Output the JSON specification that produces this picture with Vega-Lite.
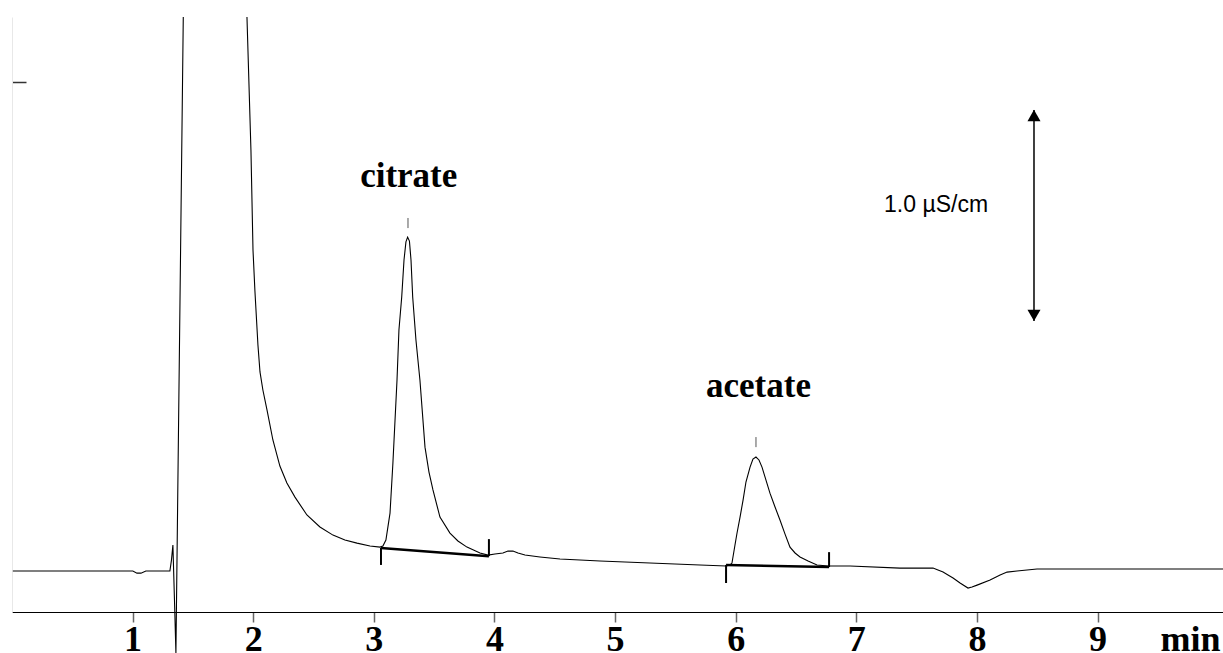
{
  "$schema": "https://vega.github.io/schema/vega-lite/v6.json",
  "width": 1211,
  "height": 595,
  "autosize": {"type": "none"},
  "padding": {"left": 12, "top": 17, "right": 0, "bottom": 41},
  "background": "white",
  "config": {"view": {"stroke": null}},
  "datasets": {
    "trace": [
      {"seg": "a", "t": 0.007, "v": 0},
      {"seg": "a", "t": 0.397, "v": 0},
      {"seg": "a", "t": 0.729, "v": 0},
      {"seg": "a", "t": 1.002, "v": 0},
      {"seg": "a", "t": 1.036, "v": -0.010},
      {"seg": "a", "t": 1.069, "v": -0.010},
      {"seg": "a", "t": 1.110, "v": 0},
      {"seg": "a", "t": 1.309, "v": 0},
      {"seg": "a", "t": 1.322, "v": 0.052},
      {"seg": "a", "t": 1.334, "v": 0.124},
      {"seg": "a", "t": 1.347, "v": -0.138},
      {"seg": "a", "t": 1.359, "v": -0.390},
      {"seg": "a", "t": 1.420, "v": 2.638},
      {"seg": "b", "t": 1.948, "v": 2.638},
      {"seg": "b", "t": 1.981, "v": 2.005},
      {"seg": "b", "t": 1.998, "v": 1.529},
      {"seg": "b", "t": 2.014, "v": 1.333},
      {"seg": "b", "t": 2.039, "v": 1.076},
      {"seg": "b", "t": 2.056, "v": 0.948},
      {"seg": "b", "t": 2.080, "v": 0.862},
      {"seg": "b", "t": 2.114, "v": 0.767},
      {"seg": "b", "t": 2.163, "v": 0.624},
      {"seg": "b", "t": 2.221, "v": 0.500},
      {"seg": "b", "t": 2.279, "v": 0.419},
      {"seg": "b", "t": 2.346, "v": 0.352},
      {"seg": "b", "t": 2.445, "v": 0.267},
      {"seg": "b", "t": 2.553, "v": 0.210},
      {"seg": "b", "t": 2.661, "v": 0.171},
      {"seg": "b", "t": 2.760, "v": 0.148},
      {"seg": "b", "t": 2.860, "v": 0.133},
      {"seg": "b", "t": 2.968, "v": 0.119},
      {"seg": "b", "t": 3.051, "v": 0.114},
      {"seg": "b", "t": 3.075, "v": 0.119},
      {"seg": "b", "t": 3.100, "v": 0.148},
      {"seg": "b", "t": 3.134, "v": 0.276},
      {"seg": "b", "t": 3.158, "v": 0.514},
      {"seg": "b", "t": 3.192, "v": 0.910},
      {"seg": "b", "t": 3.208, "v": 1.148},
      {"seg": "b", "t": 3.231, "v": 1.305},
      {"seg": "b", "t": 3.250, "v": 1.481},
      {"seg": "b", "t": 3.266, "v": 1.567},
      {"seg": "b", "t": 3.280, "v": 1.590},
      {"seg": "b", "t": 3.295, "v": 1.571},
      {"seg": "b", "t": 3.308, "v": 1.481},
      {"seg": "b", "t": 3.322, "v": 1.305},
      {"seg": "b", "t": 3.349, "v": 1.100},
      {"seg": "b", "t": 3.382, "v": 0.910},
      {"seg": "b", "t": 3.424, "v": 0.590},
      {"seg": "b", "t": 3.457, "v": 0.471},
      {"seg": "b", "t": 3.490, "v": 0.386},
      {"seg": "b", "t": 3.548, "v": 0.257},
      {"seg": "b", "t": 3.631, "v": 0.181},
      {"seg": "b", "t": 3.697, "v": 0.143},
      {"seg": "b", "t": 3.772, "v": 0.114},
      {"seg": "b", "t": 3.880, "v": 0.086},
      {"seg": "b", "t": 3.946, "v": 0.076},
      {"seg": "b", "t": 4.004, "v": 0.081},
      {"seg": "b", "t": 4.070, "v": 0.086},
      {"seg": "b", "t": 4.112, "v": 0.095},
      {"seg": "b", "t": 4.153, "v": 0.095},
      {"seg": "b", "t": 4.195, "v": 0.086},
      {"seg": "b", "t": 4.253, "v": 0.076},
      {"seg": "b", "t": 4.377, "v": 0.067},
      {"seg": "b", "t": 4.543, "v": 0.057},
      {"seg": "b", "t": 4.875, "v": 0.048},
      {"seg": "b", "t": 5.289, "v": 0.038},
      {"seg": "b", "t": 5.704, "v": 0.029},
      {"seg": "b", "t": 5.920, "v": 0.024},
      {"seg": "b", "t": 5.953, "v": 0.029},
      {"seg": "b", "t": 5.969, "v": 0.038},
      {"seg": "b", "t": 5.994, "v": 0.124},
      {"seg": "b", "t": 6.011, "v": 0.181},
      {"seg": "b", "t": 6.036, "v": 0.257},
      {"seg": "b", "t": 6.061, "v": 0.338},
      {"seg": "b", "t": 6.085, "v": 0.424},
      {"seg": "b", "t": 6.119, "v": 0.495},
      {"seg": "b", "t": 6.143, "v": 0.533},
      {"seg": "b", "t": 6.168, "v": 0.543},
      {"seg": "b", "t": 6.193, "v": 0.529},
      {"seg": "b", "t": 6.218, "v": 0.495},
      {"seg": "b", "t": 6.251, "v": 0.433},
      {"seg": "b", "t": 6.284, "v": 0.371},
      {"seg": "b", "t": 6.326, "v": 0.305},
      {"seg": "b", "t": 6.367, "v": 0.243},
      {"seg": "b", "t": 6.409, "v": 0.176},
      {"seg": "b", "t": 6.450, "v": 0.114},
      {"seg": "b", "t": 6.492, "v": 0.086},
      {"seg": "b", "t": 6.533, "v": 0.067},
      {"seg": "b", "t": 6.600, "v": 0.048},
      {"seg": "b", "t": 6.674, "v": 0.029},
      {"seg": "b", "t": 6.765, "v": 0.024},
      {"seg": "b", "t": 6.948, "v": 0.024},
      {"seg": "b", "t": 7.362, "v": 0.014},
      {"seg": "b", "t": 7.636, "v": 0.014},
      {"seg": "b", "t": 7.677, "v": 0.005},
      {"seg": "b", "t": 7.719, "v": -0.005},
      {"seg": "b", "t": 7.760, "v": -0.019},
      {"seg": "b", "t": 7.802, "v": -0.033},
      {"seg": "b", "t": 7.860, "v": -0.057},
      {"seg": "b", "t": 7.926, "v": -0.081},
      {"seg": "b", "t": 7.959, "v": -0.076},
      {"seg": "b", "t": 8.001, "v": -0.067},
      {"seg": "b", "t": 8.109, "v": -0.043},
      {"seg": "b", "t": 8.192, "v": -0.019},
      {"seg": "b", "t": 8.250, "v": -0.005},
      {"seg": "b", "t": 8.332, "v": 0},
      {"seg": "b", "t": 8.498, "v": 0.010},
      {"seg": "b", "t": 9.021, "v": 0.010},
      {"seg": "b", "t": 9.518, "v": 0.010},
      {"seg": "b", "t": 10.04, "v": 0.010}
    ],
    "baselines": [
      {"t": 3.059, "v": 0.110, "t2": 3.954, "v2": 0.071},
      {"t": 5.920, "v": 0.029, "t2": 6.774, "v2": 0.019}
    ],
    "cuts": [
      {"t": 3.059, "v": 0.110, "v2": 0.029},
      {"t": 3.954, "v": 0.152, "v2": 0.071},
      {"t": 5.920, "v": 0.029, "v2": -0.057},
      {"t": 6.774, "v": 0.090, "v2": 0.019}
    ],
    "apex": [
      {"t": 3.283, "v": 1.681, "v2": 1.633},
      {"t": 6.168, "v": 0.638, "v2": 0.590}
    ],
    "peaks": [
      {"name": "citrate", "t": 3.289, "v": 1.829},
      {"name": "acetate", "t": 6.189, "v": 0.830}
    ],
    "scalebar": [
      {"label": "1.0 µS/cm", "t": 8.473, "v": 1.190, "v2": 2.195, "tl": 7.661, "vl": 1.711}
    ],
    "heads": [
      {"dir": "up", "t": 8.473, "v": 2.169},
      {"dir": "down", "t": 8.473, "v": 1.217}
    ]
  },
  "encoding": {
    "x": {
      "field": "t",
      "type": "quantitative",
      "scale": {"domain": [0, 10.04], "nice": false, "zero": false},
      "axis": {
        "title": "min",
        "values": [1, 2, 3, 4, 5, 6, 7, 8, 9],
        "format": "d",
        "grid": false,
        "domainColor": "#000000",
        "domainWidth": 1,
        "tickColor": "#666666",
        "tickWidth": 1.5,
        "tickSize": 10,
        "labelFont": "Liberation Serif",
        "labelFontWeight": "bold",
        "labelFontSize": 36,
        "labelColor": "#000000",
        "labelBaseline": "alphabetic",
        "labelPadding": 28,
        "titleFont": "Liberation Serif",
        "titleFontWeight": "bold",
        "titleFontSize": 36,
        "titleColor": "#000000",
        "titleAnchor": "end",
        "titleAlign": "right",
        "titleBaseline": "alphabetic",
        "titleX": 1208,
        "titleY": 38
      }
    },
    "y": {
      "field": "v",
      "type": "quantitative",
      "scale": {"domain": [-0.195, 2.638], "nice": false, "zero": false},
      "axis": {
        "title": null,
        "values": [2.329],
        "labels": false,
        "grid": false,
        "domainColor": "#e8e8e8",
        "domainWidth": 1,
        "tickColor": "#333333",
        "tickWidth": 1.5,
        "tickSize": -14
      }
    }
  },
  "layer": [
    {
      "data": {"name": "trace"},
      "mark": {"type": "line", "color": "#000000", "strokeWidth": 1.1, "clip": false},
      "encoding": {"detail": {"field": "seg", "type": "nominal"}, "order": {"field": "t", "type": "quantitative"}}
    },
    {
      "data": {"name": "baselines"},
      "mark": {"type": "rule", "color": "#000000", "strokeWidth": 2.5},
      "encoding": {"x2": {"field": "t2"}, "y2": {"field": "v2"}}
    },
    {
      "data": {"name": "cuts"},
      "mark": {"type": "rule", "color": "#000000", "strokeWidth": 2},
      "encoding": {"y2": {"field": "v2"}}
    },
    {
      "data": {"name": "apex"},
      "mark": {"type": "rule", "color": "#555555", "strokeWidth": 1},
      "encoding": {"y2": {"field": "v2"}}
    },
    {
      "data": {"name": "peaks"},
      "mark": {"type": "text", "font": "Liberation Serif", "fontWeight": "bold", "fontSize": 35, "align": "center", "baseline": "alphabetic", "color": "#000000"},
      "encoding": {"text": {"field": "name"}}
    },
    {
      "data": {"name": "scalebar"},
      "mark": {"type": "rule", "color": "#000000", "strokeWidth": 1.5},
      "encoding": {"y2": {"field": "v2"}}
    },
    {
      "data": {"name": "scalebar"},
      "mark": {"type": "text", "font": "Liberation Sans", "fontSize": 23, "align": "center", "baseline": "alphabetic", "color": "#000000"},
      "encoding": {"x": {"field": "tl", "type": "quantitative"}, "y": {"field": "vl", "type": "quantitative"}, "text": {"field": "label"}}
    },
    {
      "data": {"name": "heads"},
      "mark": {"type": "point", "filled": true, "color": "#000000", "opacity": 1, "size": 170, "strokeWidth": 0},
      "encoding": {
        "shape": {"field": "dir", "type": "nominal", "scale": {"domain": ["up", "down"], "range": ["triangle-up", "triangle-down"]}, "legend": null}
      }
    }
  ]
}
